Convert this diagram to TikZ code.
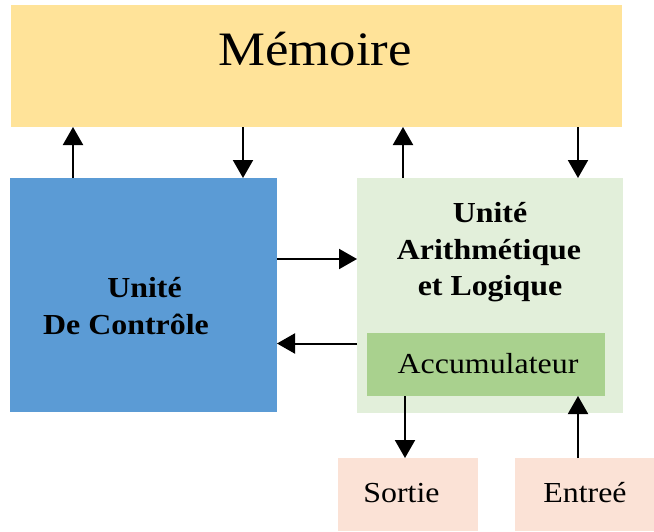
\documentclass[tikz,border=0pt]{standalone}
\usepackage{fontspec}
\setmainfont{Liberation Serif}[FakeStretch=1.1]
\usetikzlibrary{arrows.meta}
\definecolor{memcol}{HTML}{FFE399}
\definecolor{ctrlcol}{HTML}{5B9BD5}
\definecolor{alucol}{HTML}{E2EFDA}
\definecolor{acccol}{HTML}{A9D18E}
\definecolor{iocol}{HTML}{FBE2D6}
\tikzset{
  blk/.style={draw=none, inner sep=0pt, outer sep=0pt},
  lbl/.style={inner sep=0pt, anchor=base, font=\fontsize{29}{34}\selectfont},
  blbl/.style={lbl, font=\fontsize{29}{34}\selectfont\bfseries},
  arr/.style={line width=2pt, draw=black, -{Triangle[width=20pt,length=18pt]}},
}
\begin{document}
\begin{tikzpicture}[x=1pt,y=-1pt]
\useasboundingbox (0,0) rectangle (654,531);
\node[blk, fill=memcol, minimum width=611pt, minimum height=122pt] (mem) at (316.5,66) {};
\node[blk, fill=ctrlcol, minimum width=267pt, minimum height=234pt] (ctrl) at (143.5,295) {};
\node[blk, fill=alucol, minimum width=266pt, minimum height=235pt] (alu) at (490,295.5) {};
\node[blk, fill=acccol, minimum width=238pt, minimum height=63pt] (acc) at (486,364.5) {};
\node[blk, fill=iocol, minimum width=140pt, minimum height=73pt] (sortie) at (408,494.5) {};
\node[blk, fill=iocol, minimum width=139pt, minimum height=73pt] (entree) at (584.5,494.5) {};

\node[lbl, font=\fontsize{48}{54}\selectfont] (memt) at (315,65) {Mémoire};
\node[blbl] (ctrl1) at (144.5,297) {Unité};
\node[blbl] (ctrl2) at (126,334) {De Contrôle};
\node[blbl] (alu1) at (490,222) {Unité};
\node[blbl] (alu2) at (489,259) {Arithmétique};
\node[blbl] (alu3) at (490,295) {et Logique};
\node[lbl] (acct) at (488,373) {Accumulateur};
\node[lbl] (sortiet) at (401.5,502) {Sortie};
\node[lbl] (entreet) at (585,502) {Entreé};

% memory links
\draw[arr] ([xshift=63pt]ctrl.north west) -- ([xshift=63pt]ctrl.north west |- mem.south);
\draw[arr] ([xshift=233pt]ctrl.north west |- mem.south) -- ([xshift=233pt]ctrl.north west);
\draw[arr] ([xshift=46pt]alu.north west) -- ([xshift=46pt]alu.north west |- mem.south);
\draw[arr] ([xshift=221pt]alu.north west |- mem.south) -- ([xshift=221pt]alu.north west);
% control <-> alu
\draw[arr] ([yshift=36pt]ctrl.east) -- ([yshift=36pt]ctrl.east -| alu.west);
\draw[arr] ([yshift=-48pt]alu.west) -- ([yshift=-48pt]alu.west -| ctrl.east);
% accumulator <-> io
\draw[arr] ([xshift=-81pt]acc.south) -- ([xshift=-81pt]acc.south |- sortie.north);
\draw[arr] ([xshift=92pt]acc.south |- entree.north) -- ([xshift=92pt]acc.south);
\end{tikzpicture}
\end{document}
